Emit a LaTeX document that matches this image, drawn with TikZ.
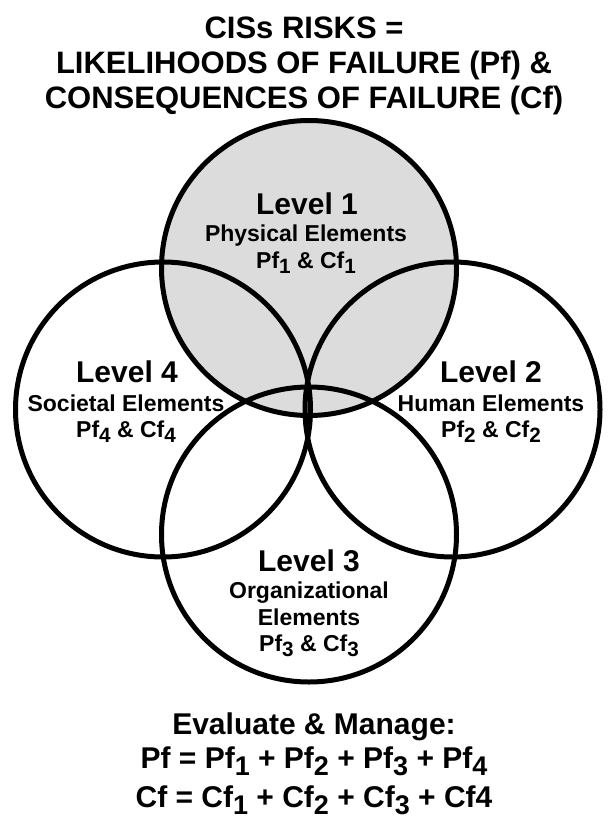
\documentclass[tikz,border=0pt]{standalone}
\usepackage{fontspec}
\setmainfont{Liberation Sans}
\usepackage{graphicx}
\newcommand\lowsub[1]{\raisebox{-0.26em}{\scalebox{0.9}{#1}}}
\definecolor{lvlgray}{RGB}{220,220,220}
\begin{document}
\begin{tikzpicture}[x=1pt,y=-1pt,
  ring/.style={draw=black,line width=5pt},
  title/.style={font=\bfseries\fontsize{31}{38}\selectfont,anchor=base,inner sep=0pt},
  lvl/.style={font=\bfseries\fontsize{30}{32}\selectfont,anchor=base,inner sep=0pt},
  elem/.style={font=\bfseries\fontsize{23}{26}\selectfont,anchor=base,inner sep=0pt},
  bottom/.style={font=\bfseries\fontsize{30}{36}\selectfont,anchor=base,inner sep=0pt}]
\useasboundingbox (0,0) rectangle (608,816);
% circles
\coordinate (c1) at (309,268);
\coordinate (c2) at (452.5,409.5);
\coordinate (c3) at (309,534.5);
\coordinate (c4) at (163,409.5);
\fill[lvlgray] (c1) circle (147.5);
\draw[ring] (c1) circle (147.5);
\draw[ring] (c2) circle (147.5);
\draw[ring] (c3) circle (147.5);
\draw[ring] (c4) circle (147.5);
% title
\node[title] (t1) at (304,38) {CISs RISKS =};
\node[title] (t2) at (304,74) {LIKELIHOODS OF FAILURE (Pf) \&};
\node[title] (t3) at (304,108) {CONSEQUENCES OF FAILURE (Cf)};
% level 1
\node[lvl] (l1) at (307,214) {Level 1};
\node[elem] (e1) at (306,241) {Physical Elements};
\node[elem] (p1) at (306,268) {Pf\lowsub{1} \& Cf\lowsub{1}};
% level 4
\node[lvl] (l4) at (127,382) {Level 4};
\node[elem] (e4) at (126,411) {Societal Elements};
\node[elem] (p4) at (126,437) {Pf\lowsub{4} \& Cf\lowsub{4}};
% level 2
\node[lvl] (l2) at (491,382) {Level 2};
\node[elem] (e2) at (491,411) {Human Elements};
\node[elem] (p2) at (491,437) {Pf\lowsub{2} \& Cf\lowsub{2}};
% level 3
\node[lvl] (l3) at (309,571) {Level 3};
\node[elem] (e3) at (309,598) {Organizational};
\node[elem] (f3) at (309,625) {Elements};
\node[elem] (p3) at (309,651) {Pf\lowsub{3} \& Cf\lowsub{3}};
% bottom
\node[bottom] (b1) at (314,734) {Evaluate \& Manage:};
\node[bottom] (b2) at (314,768) {Pf = Pf\lowsub{1} + Pf\lowsub{2} + Pf\lowsub{3} + Pf\lowsub{4}};
\node[bottom] (b3) at (314,807) {Cf = Cf\lowsub{1} + Cf\lowsub{2} + Cf\lowsub{3} + Cf4};
\end{tikzpicture}
\end{document}
